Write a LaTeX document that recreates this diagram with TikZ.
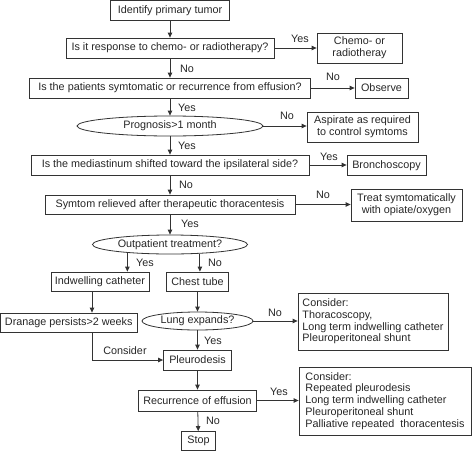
\documentclass[tikz,border=0pt]{standalone}
\usepackage{fontspec}
\setmainfont{Liberation Sans}
\usetikzlibrary{shapes.geometric,arrows.meta}
\begin{document}
\begin{tikzpicture}[x=1pt,y=-1pt,
  every node/.style={font=\fontsize{10.8}{11.8}\selectfont, text=black!85},
  box/.style={draw=black!80, line width=0.8pt, inner sep=0pt, align=center},
  lbox/.style={draw=black!80, line width=0.8pt, inner sep=0pt, align=left},
  ell/.style={ellipse, draw=black!80, line width=0.8pt, inner sep=0pt},
  arr/.style={draw=black!80, line width=0.8pt, -{Triangle[length=5pt,width=4.5pt]}},
  lab/.style={inner sep=0pt}
]
\useasboundingbox (0,0) rectangle (474,450);

% main column
\node[box, minimum width=119pt, minimum height=19.5pt] (tumor) at (170,10.5) {Identify primary tumor};
\node[box, minimum width=208pt, minimum height=20pt] (resp) at (170,48) {Is it response to chemo- or radiotherapy?};
\node[box, minimum width=85pt, minimum height=30pt] (chemo) at (359.5,48) {Chemo- or\\radiotheray};
\node[box, minimum width=281pt, minimum height=20pt] (pat) at (170,88) {Is the patients symtomatic or recurrence from effusion?};
\node[box, minimum width=53pt, minimum height=20pt] (obs) at (381.5,88) {Observe};
\node[ell, minimum width=186pt, minimum height=20pt] (prog) at (170,126) {Prognosis>1 month};
\node[box, minimum width=111pt, minimum height=30pt] (asp) at (362.5,127) {Aspirate as required\\to control symtoms};
\node[box, minimum width=278pt, minimum height=20pt] (medi) at (170,165) {Is the mediastinum shifted toward the ipsilateral side?};
\node[box, minimum width=79pt, minimum height=20pt] (bron) at (386.5,165.5) {Bronchoscopy};
\node[box, minimum width=250pt, minimum height=19pt] (sym) at (170,204.5) {Symtom relieved after therapeutic thoracentesis};
\node[box, minimum width=111pt, minimum height=32pt] (treat) at (406.5,205) {Treat symtomatically\\with opiate/oxygen};
\node[ell, minimum width=155pt, minimum height=19pt] (outp) at (170,244.5) {Outpatient treatment?};
\node[box, minimum width=98pt, minimum height=19pt] (indw) at (100,281.5) {Indwelling catheter};
\node[box, minimum width=62pt, minimum height=19pt] (chest) at (197.5,281.5) {Chest tube};
\node[box, minimum width=136.5pt, minimum height=19pt] (dran) at (68.75,322.5) {Dranage persists>2 weeks};
\node[ell, minimum width=111pt, minimum height=18pt] (lung) at (197.5,321) {Lung expands?};
\node[lbox, minimum width=150pt, minimum height=57pt] (cons1) at (373,321.5) {Consider:\\Thoracoscopy,\\Long term indwelling catheter\\Pleuroperitoneal shunt};
\node[box, minimum width=68pt, minimum height=20pt] (pleu) at (197.5,360) {Pleurodesis};
\node[box, minimum width=118pt, minimum height=21pt] (recur) at (197.5,400.5) {Recurrence of effusion};
\node[lbox, minimum width=172pt, minimum height=68pt] (cons2) at (385,401) {Consider:\\Repeated pleurodesis\\Long term indwelling catheter\\Pleuroperitoneal shunt\\Palliative repeated\ \ thoracentesis};
\node[box, minimum width=34pt, minimum height=19pt] (stop) at (198.5,441) {Stop};

\coordinate (cx) at (92,0);

% connectors
\draw[arr] (tumor) -- (resp);
\draw[arr] (resp) -- (chemo);
\draw[arr] (resp) -- (pat);
\draw[arr] (pat) -- (obs);
\draw[arr] (pat) -- (prog);
\draw[arr] (prog) -- (prog.east -| asp.west);
\draw[arr] (prog) -- (medi);
\draw[arr] (medi) -- (medi.east -| bron.west);
\draw[arr] (medi) -- (sym);
\draw[arr] (sym) -- (sym.east -| treat.west);
\draw[arr] (sym) -- (outp);
\draw[arr] (outp.-169.6) -- (outp.-169.6 |- indw.north);
\draw[arr] (outp.-17.6) -- (outp.-17.6 |- chest.north);
\draw[arr] (indw.south -| cx) -- (dran.north -| cx);
\draw[arr] (chest) -- (lung);
\draw[arr] (lung) -- (lung.east -| cons1.west);
\draw[arr] (lung) -- (pleu);
\draw[arr] (dran.south -| cx) |- (pleu.west);
\draw[arr] (pleu) -- (recur);
\draw[arr] (recur) -- (recur.east -| cons2.west);
\draw[arr] (recur) -- (stop);

% labels
\node[lab] (l1) at (300,39) {Yes};
\node[lab] (l2) at (187,69) {No};
\node[lab] (l3) at (333,77) {No};
\node[lab] (l4) at (187,108) {Yes};
\node[lab] (l5) at (287,116) {No};
\node[lab] (l6) at (187,146) {Yes};
\node[lab] (l7) at (329,157) {Yes};
\node[lab] (l8) at (186,185) {No};
\node[lab] (l9) at (323,195) {No};
\node[lab] (l10) at (190,224) {Yes};
\node[lab] (l11) at (145,263) {Yes};
\node[lab] (l12) at (215,263) {No};
\node[lab] (l13) at (275,313) {No};
\node[lab] (l14) at (213,341) {Yes};
\node[lab] (l15) at (125,351) {Consider};
\node[lab] (l16) at (279,392) {Yes};
\node[lab] (l17) at (213,421) {No};
\end{tikzpicture}
\end{document}
